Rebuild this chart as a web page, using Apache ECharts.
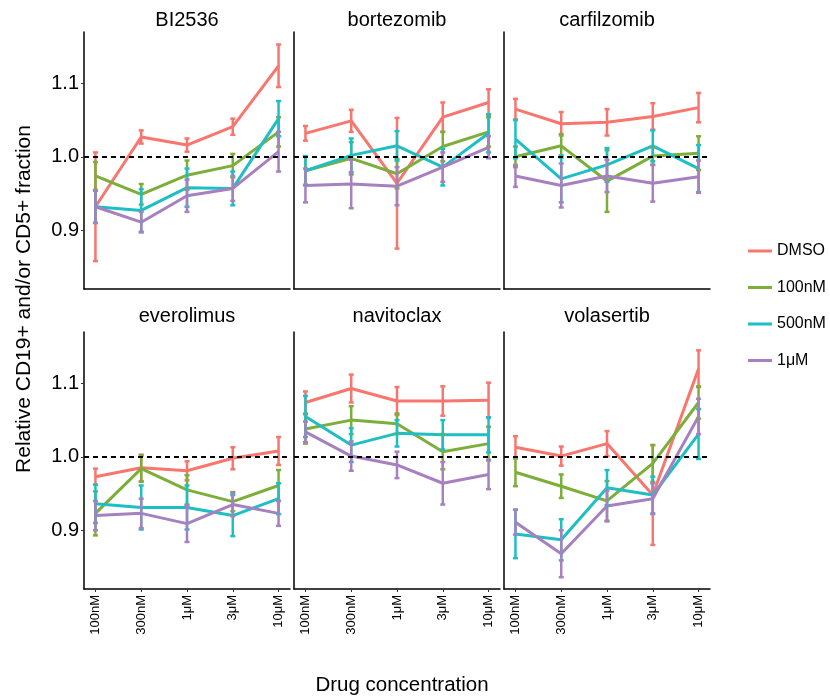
<!DOCTYPE html>
<html>
<head>
<meta charset="utf-8">
<script src="https://cdn.jsdelivr.net/npm/echarts@6/dist/echarts.min.js"></script>
<style>
  html, body { margin: 0; padding: 0; background: #ffffff; }
  #chart { width: 830px; height: 700px; }
</style>
</head>
<body>
<div id="chart"></div>
<script>
// 浓度 / 药物 / 分组
const concs = ['100nM', '300nM', '1μM', '3μM', '10μM']
const drugs = ['BI2536', 'bortezomib', 'carfilzomib', 'everolimus', 'navitoclax', 'volasertib']
const groups = ['DMSO', '100nM', '500nM', '1μM']
const yTicks = [0.9, 1.0, 1.1]

// 每个药物：均值 (按 groups 顺序，每行 5 个浓度) 与误差
const BI2536Mean = [
  [0.932, 1.027, 1.016, 1.041, 1.124],
  [0.974, 0.949, 0.975, 0.988, 1.034],
  [0.932, 0.927, 0.958, 0.957, 1.052],
  [0.932, 0.911, 0.947, 0.957, 1.007]
]
const BI2536Err = [
  [0.074, 0.009, 0.009, 0.011, 0.029],
  [0.019, 0.014, 0.020, 0.016, 0.020],
  [0.022, 0.029, 0.026, 0.023, 0.024],
  [0.022, 0.014, 0.022, 0.017, 0.027]
]
const bortezomibMean = [
  [1.032, 1.049, 0.964, 1.054, 1.074],
  [0.981, 0.998, 0.977, 1.014, 1.034],
  [0.981, 1.002, 1.015, 0.986, 1.032],
  [0.961, 0.963, 0.960, 0.986, 1.013]
]
const bortezomibErr = [
  [0.010, 0.015, 0.089, 0.020, 0.018],
  [0.019, 0.022, 0.020, 0.020, 0.020],
  [0.020, 0.023, 0.020, 0.025, 0.026],
  [0.023, 0.033, 0.026, 0.020, 0.015]
]
const carfilzomibMean = [
  [1.065, 1.045, 1.047, 1.055, 1.067],
  [1.000, 1.015, 0.967, 1.001, 1.005],
  [1.024, 0.970, 0.989, 1.015, 0.984],
  [0.974, 0.961, 0.974, 0.964, 0.973]
]
const carfilzomibErr = [
  [0.014, 0.016, 0.018, 0.018, 0.020],
  [0.014, 0.016, 0.042, 0.012, 0.023],
  [0.026, 0.032, 0.023, 0.021, 0.032],
  [0.015, 0.030, 0.022, 0.025, 0.022]
]
const everolimusMean = [
  [0.973, 0.985, 0.981, 0.998, 1.008],
  [0.923, 0.984, 0.955, 0.939, 0.961],
  [0.936, 0.931, 0.931, 0.920, 0.943],
  [0.920, 0.923, 0.909, 0.935, 0.923]
]
const everolimusErr = [
  [0.011, 0.018, 0.013, 0.015, 0.019],
  [0.030, 0.018, 0.020, 0.013, 0.021],
  [0.026, 0.030, 0.030, 0.028, 0.021],
  [0.020, 0.020, 0.025, 0.016, 0.017]
]
const navitoclaxMean = [
  [1.074, 1.093, 1.076, 1.076, 1.077],
  [1.038, 1.050, 1.045, 1.007, 1.018],
  [1.055, 1.016, 1.032, 1.030, 1.030],
  [1.034, 1.001, 0.989, 0.964, 0.976]
]
const navitoclaxErr = [
  [0.015, 0.019, 0.019, 0.020, 0.024],
  [0.020, 0.019, 0.014, 0.024, 0.023],
  [0.028, 0.023, 0.018, 0.020, 0.024],
  [0.014, 0.020, 0.018, 0.029, 0.020]
]
const volasertibMean = [
  [1.013, 1.001, 1.018, 0.948, 1.120],
  [0.979, 0.960, 0.940, 0.991, 1.074],
  [0.895, 0.887, 0.958, 0.948, 1.031],
  [0.911, 0.868, 0.933, 0.943, 1.055]
]
const volasertibErr = [
  [0.015, 0.013, 0.017, 0.068, 0.025],
  [0.019, 0.016, 0.027, 0.025, 0.022],
  [0.033, 0.028, 0.024, 0.025, 0.034],
  [0.017, 0.032, 0.021, 0.021, 0.024]
]

const means = [BI2536Mean, bortezomibMean, carfilzomibMean, everolimusMean, navitoclaxMean, volasertibMean]
const errs = [BI2536Err, bortezomibErr, carfilzomibErr, everolimusErr, navitoclaxErr, volasertibErr]

const colors = ['#F8766D', '#7CAE3A', '#1DBFC4', '#A680BF']
const font = "'Liberation Sans', Arial, sans-serif"

const myChart = echarts.init(document.getElementById('chart'))

// 面板位置
const panelLeft = [84, 294, 504]
const panelTop = [32, 332]
const panelW = 206
const panelH = 257

const grid = []
const xAxis = []
const yAxis = []
const series = []
const graphic = []

drugs.forEach((drug, k) => {
  const col = k % 3
  const row = Math.floor(k / 3)
  grid.push({ left: panelLeft[col], top: panelTop[row], width: panelW, height: panelH })

  xAxis.push({
    type: 'value',
    gridIndex: k,
    min: -0.25,
    max: 4.25,
    splitLine: { show: false },
    axisLine: { show: true, onZero: false, lineStyle: { color: '#000', width: 1.5 } },
    axisTick: { show: row === 1, customValues: [0, 1, 2, 3, 4], length: 3, lineStyle: { color: '#333' } },
    axisLabel: {
      show: row === 1,
      customValues: [0, 1, 2, 3, 4],
      rotate: 90,
      margin: 6,
      fontSize: 13,
      color: '#000',
      fontFamily: font,
      formatter: v => concs[Math.round(v)]
    }
  })

  yAxis.push({
    type: 'value',
    gridIndex: k,
    min: 0.82,
    max: 1.17,
    splitLine: { show: false },
    axisLine: { show: true, onZero: false, lineStyle: { color: '#000', width: 1.5 } },
    axisTick: { show: col === 0, customValues: yTicks, length: 3, lineStyle: { color: '#333' } },
    axisLabel: {
      show: col === 0,
      customValues: yTicks,
      margin: 5,
      fontSize: 20,
      color: '#000',
      fontFamily: font,
      formatter: v => v.toFixed(1)
    }
  })

  // 分面标题
  graphic.push({
    type: 'text',
    x: panelLeft[col] + panelW / 2,
    y: row === 0 ? 20 : 316,
    style: { text: drug, fill: '#000', fontSize: 20, fontFamily: font, align: 'center', verticalAlign: 'middle' }
  })

  groups.forEach((g, j) => {
    const m = means[k][j]
    const e = errs[k][j]
    // 折线
    series.push({
      name: g,
      type: 'line',
      xAxisIndex: k,
      yAxisIndex: k,
      data: m.map((v, i) => [i, v]),
      showSymbol: false,
      symbol: 'none',
      color: colors[j],
      lineStyle: { width: 3, color: colors[j] },
      z: 2,
      markLine: j === 0 ? {
        silent: true,
        symbol: 'none',
        label: { show: false },
        lineStyle: { color: '#000', type: [5, 4], width: 2 },
        data: [{ yAxis: 1.0 }]
      } : undefined
    })
    // 误差线
    series.push({
      name: g,
      type: 'custom',
      xAxisIndex: k,
      yAxisIndex: k,
      data: m.map((v, i) => [i, v - e[i], v + e[i]]),
      encode: { x: 0, y: [1, 2] },
      itemStyle: { color: colors[j] },
      z: 3,
      renderItem: (params, api) => {
        const x = api.value(0)
        const lo = api.coord([x, api.value(1)])
        const hi = api.coord([x, api.value(2)])
        const w = 2.5
        const st = { stroke: colors[j], lineWidth: 2.5 }
        return {
          type: 'group',
          children: [
            { type: 'line', shape: { x1: lo[0], y1: lo[1], x2: hi[0], y2: hi[1] }, style: st },
            { type: 'line', shape: { x1: lo[0] - w, y1: lo[1], x2: lo[0] + w, y2: lo[1] }, style: st },
            { type: 'line', shape: { x1: hi[0] - w, y1: hi[1], x2: hi[0] + w, y2: hi[1] }, style: st }
          ]
        }
      }
    })
  })
})

// 轴标题
graphic.push({
  type: 'text',
  x: 24,
  y: 299,
  rotation: Math.PI / 2,
  style: { text: 'Relative CD19+ and/or CD5+ fraction', fill: '#000', fontSize: 21, fontFamily: font, align: 'center', verticalAlign: 'middle' }
})
graphic.push({
  type: 'text',
  x: 402,
  y: 685,
  style: { text: 'Drug concentration', fill: '#000', fontSize: 20.5, fontFamily: font, align: 'center', verticalAlign: 'middle' }
})

const options = {
  animation: false,
  backgroundColor: '#ffffff',
  legend: {
    data: groups,
    orient: 'vertical',
    left: 748,
    top: 243,
    padding: 0,
    icon: 'rect',
    itemWidth: 24,
    itemHeight: 3,
    itemGap: 20.5,
    textStyle: { fontSize: 16, color: '#000', fontFamily: font, lineHeight: 16 }
  },
  grid,
  xAxis,
  yAxis,
  series,
  graphic
}
myChart.setOption(options)
</script>
</body>
</html>
